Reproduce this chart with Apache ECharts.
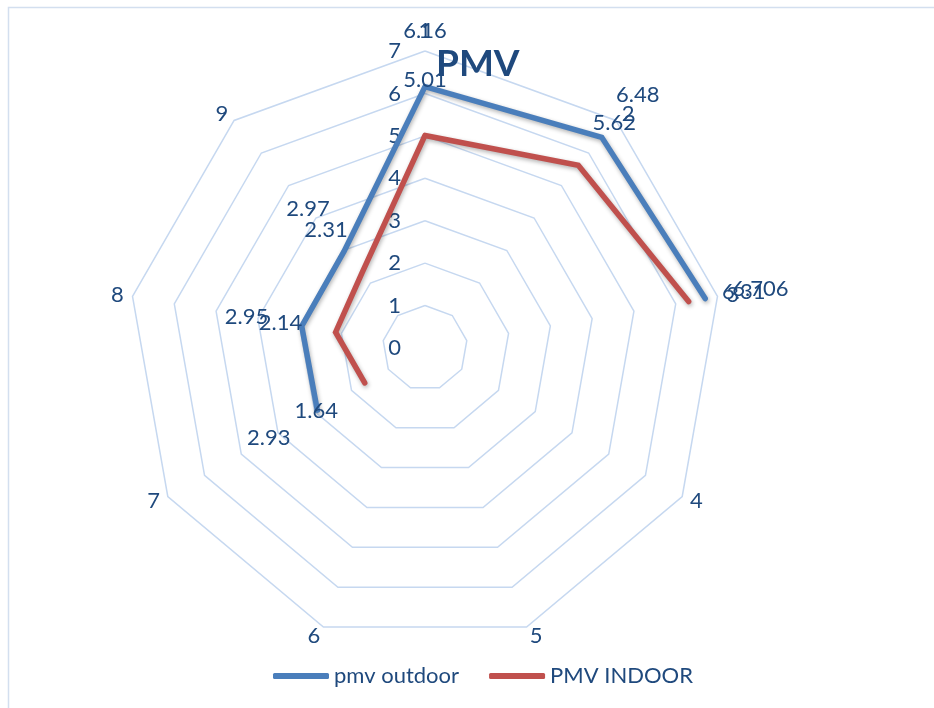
<!DOCTYPE html>
<html>
<head>
<meta charset="utf-8">
<title>PMV</title>
<script src="https://cdn.jsdelivr.net/npm/echarts@6/dist/echarts.min.js"></script>
<style>
html,body{margin:0;padding:0;background:#fff;}
#main{width:934px;height:708px;}
</style>
</head>
<body>
<div id="main"></div>
<script>
// categories around the radar, clockwise from the top
const categories = ['1', '2', '3', '4', '5', '6', '7', '8', '9'];
// null = no value (gap in the line)
const pmvOutdoor = [6.16, 6.48, 6.706, null, null, null, 2.93, 2.95, 2.97];
const pmvIndoor = [5.01, 5.62, 6.31, null, null, null, 1.64, 2.14, 2.31];
const radiusTicks = [0, 1, 2, 3, 4, 5, 6, 7];

const textColor = '#1F497D';
const gridColor = '#C6D8F0';
const fontFamily = 'Lato, "Open Sans", sans-serif';
const center = [425, 348];
const radius = 297;
const labelDist = 56;

// radar draws counterclockwise, so feed the names reversed after the first
const indicators = [categories[0]].concat(categories.slice(1).reverse()).map(function (n) {
    return { name: n, min: 0, max: radiusTicks[radiusTicks.length - 1] };
});

function buildData(values) {
    const n = values.length;
    const list = values.map(function (v, i) {
        const ang = i * 2 * Math.PI / n;
        return {
            value: [v === null ? '-' : v, i],
            label: {
                show: v !== null,
                offset: [labelDist * Math.sin(ang), -labelDist * Math.cos(ang)]
            }
        };
    });
    // close the loop back to the first category
    list.push({ value: [values[0] === null ? '-' : values[0], n], label: { show: false } });
    return list;
}

function lineSeries(name, values, color) {
    return {
        name: name,
        type: 'line',
        coordinateSystem: 'polar',
        data: buildData(values),
        color: color,
        symbol: 'circle',
        symbolSize: 0,
        connectNulls: false,
        lineStyle: {
            width: 5.5,
            color: color,
            cap: 'round',
            join: 'miter',
            shadowColor: 'rgba(0,0,0,0.3)',
            shadowBlur: 4,
            shadowOffsetX: 1,
            shadowOffsetY: 2
        },
        label: {
            show: true,
            position: 'inside',
            color: textColor,
            fontSize: 22,
            fontFamily: fontFamily,
            formatter: function (p) { return p.value[0]; }
        },
        emphasis: { disabled: true },
        animation: false
    };
}

const chart = echarts.init(document.getElementById('main'));
const option = {
    backgroundColor: '#fff',
    animation: false,
    title: {
        text: 'PMV',
        left: 436,
        top: 46,
        padding: 0,
        textStyle: { color: textColor, fontSize: 37, fontWeight: 'bold', fontFamily: fontFamily }
    },
    legend: {
        data: ['pmv outdoor', 'PMV INDOOR'],
        left: 268,
        top: 660,
        icon: 'roundRect',
        itemWidth: 56,
        itemHeight: 6,
        itemGap: 30,
        textStyle: { color: textColor, fontSize: 22, fontFamily: fontFamily }
    },
    radar: {
        center: center,
        radius: radius,
        startAngle: 90,
        splitNumber: 7,
        shape: 'polygon',
        indicator: indicators,
        nameGap: 9,
        axisName: { color: textColor, fontSize: 22, fontFamily: fontFamily },
        axisLine: { show: false },
        axisTick: { show: false },
        axisLabel: { show: false },
        splitArea: { show: false },
        splitLine: { lineStyle: { color: gridColor, width: 1.5 } }
    },
    polar: { center: center, radius: radius },
    angleAxis: {
        type: 'value',
        min: 0,
        max: categories.length,
        startAngle: 90,
        clockwise: true,
        show: false
    },
    radiusAxis: {
        type: 'value',
        min: 0,
        max: radiusTicks[radiusTicks.length - 1],
        interval: 1,
        axisLine: { show: false },
        axisTick: { show: false },
        splitLine: { show: false },
        axisLabel: { color: textColor, fontSize: 22, fontFamily: fontFamily, margin: 24 }
    },
    graphic: [{
        type: 'rect',
        left: 6,
        top: 5,
        shape: { width: 960, height: 720 },
        style: { fill: 'none', stroke: '#D3DFEF', lineWidth: 1.5 },
        silent: true
    }],
    series: [
        lineSeries('pmv outdoor', pmvOutdoor, '#4A7EBB'),
        lineSeries('PMV INDOOR', pmvIndoor, '#C0504D')
    ]
};
chart.setOption(option);
</script>
</body>
</html>
